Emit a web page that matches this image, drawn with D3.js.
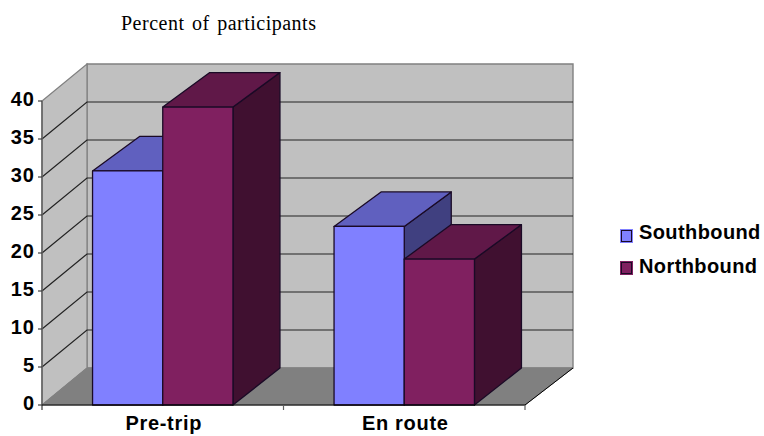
<!DOCTYPE html>
<html>
<head>
<meta charset="utf-8">
<style>
html, body { margin: 0; padding: 0; background: #fff; }
svg { display: block; }
.tick-label, .cat-label, .legend-label { font-family: "Liberation Sans", Arial, sans-serif; font-weight: 700; fill: #000; }
</style>
<script src="https://cdn.jsdelivr.net/npm/d3@7/dist/d3.min.js"></script>
</head>
<body>
<script>
// Chart values
const categories = ["Pre-trip", "En route"];
const seriesNames = ["Southbound", "Northbound"];
const southbound = [30.8, 23.5];
const northbound = [39.2, 19.2];
const yTicks = [0, 5, 10, 15, 20, 25, 30, 35, 40];
const titleText = "Percent of participants";

// Front plane of the 3-D box and the oblique shift to its back plane
const W = 764, H = 436;
const plotLeft = 42, plotRight = 525, plotBase = 405, plotTop = 101;
const depthX = 45, depthY = 37;
const barDepthX = 47, barDepthY = 34.5;

const colors = {
  Southbound: { front: "#8080ff", top: "#6060bf", side: "#404080" },
  Northbound: { front: "#802060", top: "#601848", side: "#401030" }
};

const svg = d3.select("body").append("svg").attr("width", W).attr("height", H);
const x = d3.scaleBand().domain(categories).range([plotLeft, plotRight]);
const y = d3.scaleLinear().domain([0, 40]).range([plotBase, plotTop]);
const xInner = d3.scaleBand().domain(seriesNames)
  .range([0, x.bandwidth()]).paddingInner(0).paddingOuter(0.72);

const poly = pts => pts.map(p => p.join(",")).join(" ");
const backRight = plotRight + 48;

// Walls and floor
svg.append("polygon").attr("fill", "#c0c0c0").attr("stroke", "#808080").attr("stroke-width", 1.4)
  .attr("points", poly([[plotLeft + depthX, y(40) - depthY], [backRight, y(40) - depthY], [backRight, plotBase - depthY], [plotLeft + depthX, plotBase - depthY]]));
svg.append("polygon").attr("fill", "#c0c0c0").attr("stroke", "#808080").attr("stroke-width", 1.2)
  .attr("points", poly([[plotLeft, y(40)], [plotLeft + depthX, y(40) - depthY], [plotLeft + depthX, plotBase - depthY], [plotLeft, plotBase]]));
svg.append("polygon").attr("fill", "#808080").attr("stroke", "#808080")
  .attr("points", poly([[plotLeft, plotBase], [plotLeft + depthX, plotBase - depthY], [backRight, plotBase - depthY], [plotRight, plotBase]]));

// Gridlines on the back and left walls
const grid = svg.append("g").attr("stroke", "#222").attr("stroke-width", 1.2).attr("fill", "none");
yTicks.filter(t => t > 0 && t < 40).forEach(t => {
  grid.append("polyline").attr("points", poly([[plotLeft, y(t)], [plotLeft + depthX, y(t) - depthY], [backRight, y(t) - depthY]]));
});

// Bars: side and top faces first, then the front face, south before north
const rows = categories.map((c, i) => [
  { cat: c, name: "Southbound", value: southbound[i] },
  { cat: c, name: "Northbound", value: northbound[i] }
]).flat();

const bars = svg.append("g").selectAll("g").data(rows).join("g")
  .attr("stroke", "#1a0a26").attr("stroke-width", 1.3).attr("stroke-linejoin", "round");

bars.each(function (d) {
  const g = d3.select(this), c = colors[d.name];
  const x0 = x(d.cat) + xInner(d.name), x1 = x0 + xInner.bandwidth();
  const yt = y(d.value);
  g.append("polygon").attr("fill", c.side)
    .attr("points", poly([[x1, yt], [x1 + barDepthX, yt - barDepthY], [x1 + barDepthX, plotBase - depthY], [x1, plotBase]]));
  g.append("polygon").attr("fill", c.top)
    .attr("points", poly([[x0, yt], [x0 + barDepthX, yt - barDepthY], [x1 + barDepthX, yt - barDepthY], [x1, yt]]));
  g.append("rect").attr("fill", c.front)
    .attr("x", x0).attr("y", yt).attr("width", x1 - x0).attr("height", plotBase - yt);
});

// Axes
const axisG = svg.append("g");
axisG.append("line").attr("x1", plotLeft).attr("x2", plotLeft).attr("y1", y(40)).attr("y2", plotBase + 5)
  .attr("stroke", "#606060").attr("stroke-width", 1.5);
axisG.append("line").attr("x1", plotLeft).attr("x2", plotRight).attr("y1", plotBase).attr("y2", plotBase)
  .attr("stroke", "#000").attr("stroke-width", 1.2);
axisG.selectAll(".ytick").data(yTicks).join("line").attr("class", "ytick")
  .attr("x1", plotLeft - 4).attr("x2", plotLeft).attr("y1", d => y(d)).attr("y2", d => y(d))
  .attr("stroke", "#404040").attr("stroke-width", 1.2);
axisG.selectAll(".xtick").data([categories[1]]).join("line").attr("class", "xtick")
  .attr("x1", d => x(d)).attr("x2", d => x(d)).attr("y1", plotBase).attr("y2", plotBase + 5)
  .attr("stroke", "#606060").attr("stroke-width", 1.2);
axisG.append("line").attr("x1", plotRight).attr("x2", plotRight).attr("y1", plotBase).attr("y2", plotBase + 5)
  .attr("stroke", "#606060").attr("stroke-width", 1.2);
axisG.append("line").attr("x1", plotRight).attr("y1", plotBase).attr("x2", backRight).attr("y2", plotBase - depthY)
  .attr("stroke", "#000").attr("stroke-width", 1);

svg.selectAll(".tick-label").data(yTicks).join("text").attr("class", "tick-label")
  .attr("x", 35).attr("y", d => y(d) + 4.5).attr("text-anchor", "end")
  .attr("font-size", 20).attr("letter-spacing", 1).text(d => d);

svg.selectAll(".cat-label").data(categories).join("text").attr("class", "cat-label")
  .attr("x", d => x(d) + x.bandwidth() / 2 + 1).attr("y", 430).attr("text-anchor", "middle")
  .attr("font-size", 20).attr("letter-spacing", 0.7).text(d => d);

// Title
svg.append("text").attr("x", 121).attr("y", 30)
  .attr("font-family", '"Liberation Serif", "Times New Roman", serif')
  .attr("font-size", 20).attr("fill", "#000").attr("word-spacing", 2).attr("letter-spacing", 0.5).text(titleText);

// Legend: coloured swatch with a dark inner outline, then the series name
const swatchY = d3.scalePoint().domain(seriesNames).range([236, 268]);
const labelY = d3.scalePoint().domain(seriesNames).range([239, 273]);
const legend = svg.append("g").selectAll("g").data(seriesNames).join("g");
legend.append("rect").attr("x", 620).attr("y", d => swatchY(d) - 7)
  .attr("width", 13).attr("height", 14).attr("fill", d => colors[d].front);
legend.append("rect").attr("x", 621.5).attr("y", d => swatchY(d) - 5.5)
  .attr("width", 10).attr("height", 11)
  .attr("fill", "none").attr("stroke", "#1a0a26").attr("stroke-width", 1);
legend.append("text").attr("class", "legend-label").attr("x", 639).attr("y", d => labelY(d))
  .attr("font-size", 20).attr("letter-spacing", 0.4).text(d => d);
</script>
</body>
</html>
